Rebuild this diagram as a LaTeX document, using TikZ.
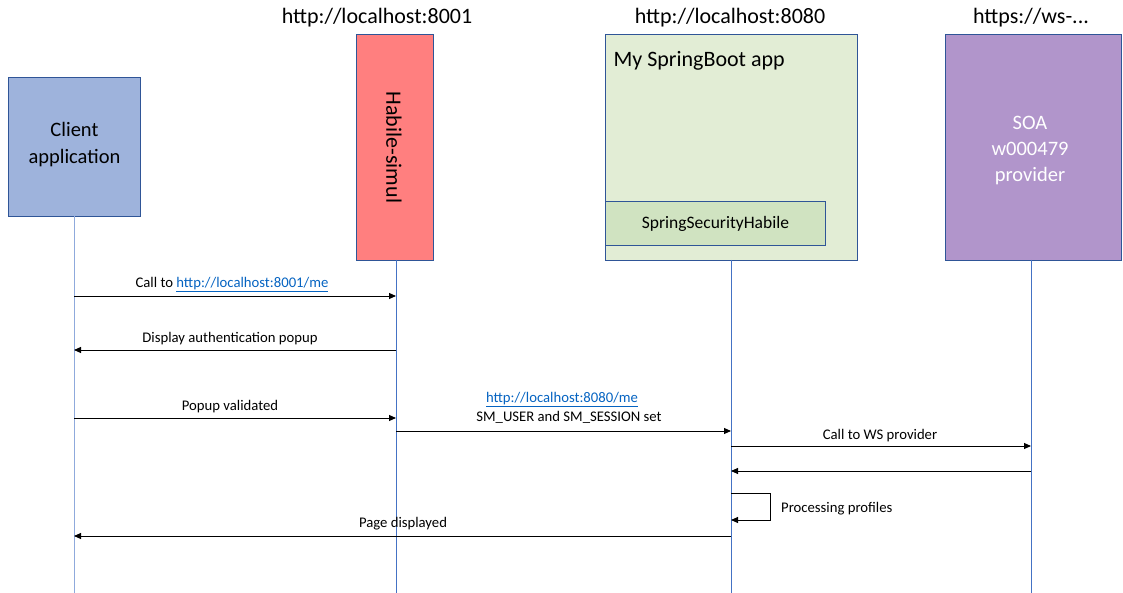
\documentclass[tikz,border=0pt]{standalone}
\usepackage{fontspec}
\setmainfont{Carlito}
\usetikzlibrary{arrows.meta}
\definecolor{clientfill}{HTML}{9EB3DC}
\definecolor{boxline}{HTML}{2F5597}
\definecolor{habfill}{HTML}{FF7F7F}
\definecolor{springfill}{HTML}{E2EDD5}
\definecolor{innerfill}{HTML}{D0E3C1}
\definecolor{soafill}{HTML}{B195CB}
\definecolor{lifeblue}{HTML}{4472C4}
\definecolor{lifelight}{HTML}{8FAADC}
\definecolor{linkblue}{HTML}{0563C1}
\tikzset{
  actor/.style={draw=boxline, line width=0.9pt, inner sep=0pt, anchor=north west},
  header/.style={font=\fontsize{22}{24}\selectfont, anchor=center},
  msg/.style={draw=black, line width=0.9pt, -{Triangle[length=7pt,width=6pt]}},
  lbl/.style={font=\fontsize{14.7}{16}\selectfont, anchor=center, inner sep=0pt, yshift=-2pt},
  life/.style={draw=lifeblue, line width=0.8pt},
}
\newcommand{\lnk}[1]{\textcolor{linkblue}{\underline{#1}}}
\begin{document}
\begin{tikzpicture}[x=1pt,y=-1pt]
\useasboundingbox (0,0) rectangle (1123,593);
% headers
\node[header] (h1) at (377,18) {http://localhost:8001};
\node[header] (h2) at (730,18) {http://localhost:8080};
\node[header] (h3) at (1031,18) {https://ws-...};
% actor boxes
\node[actor, fill=clientfill, minimum width=132pt, minimum height=139pt] (client) at (8,77) {};
\node[font=\fontsize{20.5}{27}\selectfont, align=center] (clientt) at ([yshift=2pt]client.center) {Client\\application};
\node[actor, fill=habfill, minimum width=77pt, minimum height=226pt] (hab) at (356,34) {};
\node[font=\fontsize{22}{24}\selectfont, rotate=-90] (habt) at ([xshift=-1pt]hab.center) {Habile-simul};
\node[actor, fill=springfill, minimum width=252pt, minimum height=226pt] (spring) at (605,34) {};
\node[font=\fontsize{22}{24}\selectfont, anchor=west] (springt) at (610,61) {My SpringBoot app};
\node[actor, fill=innerfill, minimum width=220pt, minimum height=44pt] (inner) at (605,201) {};
\node[font=\fontsize{17.5}{19}\selectfont] (innert) at ([xshift=0pt]inner.center) {SpringSecurityHabile};
\node[actor, fill=soafill, minimum width=176pt, minimum height=226pt] (soa) at (945,34) {};
\node[font=\fontsize{20.5}{26}\selectfont, align=center, text=white] (soat) at (1030,151) {SOA\\w000479\\provider};
% lifeline ends
\coordinate (cb) at (74,593);
\coordinate (hb) at (396,593);
\coordinate (sb) at (731,593);
\coordinate (ob) at (1031,593);
\draw[life, draw=lifelight] (74,216) coordinate (ct) -- (cb);
\draw[life] (396,260) coordinate (ht) -- (hb);
\draw[life] (731,260) coordinate (st) -- (sb);
\draw[life] (1031,260) coordinate (ot) -- (ob);
% message points
\coordinate (c1) at (74,296); \coordinate (h1a) at (396,296);
\coordinate (c2) at (74,350); \coordinate (h2a) at (396,350);
\coordinate (c3) at (74,418); \coordinate (h3a) at (396,418);
\coordinate (h4) at (396,431); \coordinate (s4) at (731,431);
\coordinate (s5) at (731,446); \coordinate (o5) at (1031,446);
\coordinate (s6) at (731,471); \coordinate (o6) at (1031,471);
\coordinate (s7) at (731,493); \coordinate (s8) at (731,520);
\coordinate (s9) at (731,536); \coordinate (c9) at (74,536);
% messages
\draw[msg] (c1) -- (h1a);
\node[lbl] (l1) at (232,283) {Call to \lnk{http://localhost:8001/me}};
\draw[msg] (h2a) -- (c2);
\node[lbl] (l2) at (230,337) {Display authentication popup};
\draw[msg] (c3) -- (h3a);
\node[lbl] (l3) at (230,405) {Popup validated};
\draw[msg] (h4) -- (s4);
\node[lbl] (l4a) at (562,398) {\lnk{http://localhost:8080/me}};
\node[lbl] (l4b) at (569,415) {SM\_USER and SM\_SESSION set};
\draw[msg] (s5) -- (o5);
\node[lbl] (l5) at (880,434) {Call to WS provider};
\draw[msg] (o6) -- (s6);
\draw[msg] (s7) -- ++(39,0) |- (s8);
\node[lbl, anchor=west] (l7) at (781,507) {Processing profiles};
\draw[msg] (s9) -- (c9);
\node[lbl] (l9) at (403,522) {Page displayed};
\end{tikzpicture}
\end{document}
